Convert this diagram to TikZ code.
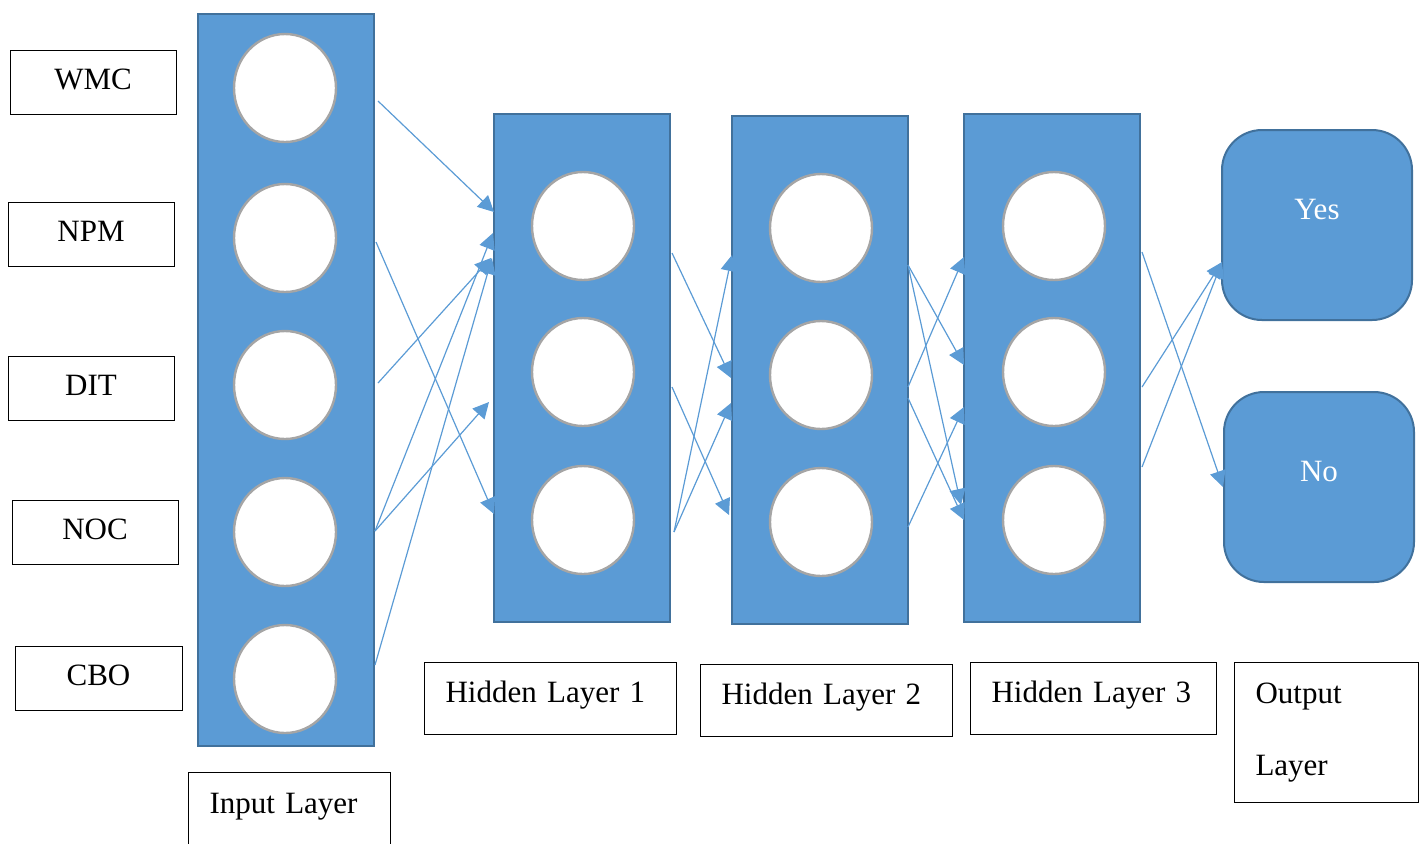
\documentclass[tikz,border=0pt]{standalone}
\usepackage{fontspec}
\setmainfont{Liberation Serif}
\usetikzlibrary{arrows.meta,shapes.geometric}
\definecolor{lblue}{HTML}{5B9BD5}
\definecolor{dblue}{HTML}{41719C}
\definecolor{cgray}{HTML}{A5A5A5}
\begin{document}
\begin{tikzpicture}[x=0.5pt,y=-0.5pt,
  txt/.style={font=\fontsize{15.5}{18}\selectfont},
  layerbox/.style={draw=dblue,fill=lblue,line width=1pt,minimum width=88pt,inner sep=0pt},
  neuron/.style={ellipse,draw=cgray,fill=white,line width=1.2pt,minimum width=51pt,minimum height=54pt,inner sep=0pt},
  outbox/.style={txt,draw=dblue,fill=lblue,line width=1pt,rounded corners=20pt,minimum width=95pt,minimum height=95pt,text=white,text height=10.5pt,text depth=16pt,inner sep=0pt},
  inbox/.style={txt,draw=black,line width=0.5pt,minimum height=32pt,text height=10.5pt,text depth=3.1pt,inner sep=0pt},
  lbl/.style={txt,draw=black,line width=0.5pt,align=left,anchor=north west,inner ysep=0pt,inner xsep=10.5pt},
  conn/.style={draw=lblue,line width=0.6pt,-{Triangle[length=8pt,width=8pt]}}
]
\useasboundingbox (0,0) rectangle (1424,843);

% input feature boxes
\node[inbox,minimum width=83pt] (wmc) at (93,82) {WMC};
\node[inbox,minimum width=83pt] (npm) at (91,234) {NPM};
\node[inbox,minimum width=83pt] (dit) at (91,388) {DIT};
\node[inbox,minimum width=83pt] (noc) at (95,532) {NOC};
\node[inbox,minimum width=83.5pt] (cbo) at (98.5,678) {CBO};

% layers
\node[layerbox,minimum height=366pt] (inl) at (286,380) {};
\node[layerbox,minimum height=254pt] (h1) at (582,368) {};
\node[layerbox,minimum height=254pt] (h2) at (820,370) {};
\node[layerbox,minimum height=254pt] (h3) at (1052,368) {};

% neurons
\foreach \i/\y in {1/88,2/238,3/385,4/532,5/679}
  \node[neuron] (i\i) at (285,\y) {};
\foreach \i/\y in {1/226,2/372,3/520}
  \node[neuron] (a\i) at (583,\y) {};
\foreach \i/\y in {1/228,2/375,3/522}
  \node[neuron] (b\i) at (821,\y) {};
\foreach \i/\y in {1/226,2/372,3/520}
  \node[neuron] (c\i) at (1054,\y) {};

% output
\node[outbox] (yes) at (1317,225) {Yes};
\node[outbox] (no) at (1319,487) {No};

% labels
\node[lbl,minimum width=101pt,minimum height=50pt,text width=80pt,text height=10.5pt,text depth=20pt] (inlab) at (188,772) {Input Layer};
\node[lbl,minimum width=126pt,minimum height=36pt,text width=105pt,text height=10.5pt,text depth=6.1pt] (hl1) at (424,662) {Hidden Layer 1};
\node[lbl,minimum width=126pt,minimum height=36pt,text width=105pt,text height=10.5pt,text depth=6.1pt] (hl2) at (700,664) {Hidden Layer 2};
\node[lbl,minimum width=123pt,minimum height=36pt,text width=102pt,text height=10.5pt,text depth=6.1pt] (hl3) at (970,662) {Hidden Layer 3};
\node[lbl,minimum width=92pt,minimum height=70pt,text width=71pt] (oll) at (1234,662) {Output\\[18pt]Layer};

% connectors
\foreach \n/\sx/\sy/\ex/\ey in {
  p1/378/101/494/212, p2/376/242/494/514, p3/378/383/491/258,
  p4/375/531/493/233, p5/375/531/489/402, p6/375/665/492/258,
  q1/672/253/731/378, q2/672/387/729/515, q3/674/532/732/255, q4/674/532/731/403,
  r1/908/265/964/365, r2/908/265/961/505, r3/908/387/964/257, r4/908/398/964/520, r5/908/527/964/407,
  s1/1142/252/1223/487, s2/1142/387/1222/262, s3/1142/467/1222/262}
{
  \coordinate (\n a) at (\sx,\sy);
  \coordinate (\n b) at (\ex,\ey);
  \draw[conn] (\n a) -- (\n b);
}
\end{tikzpicture}
\end{document}
